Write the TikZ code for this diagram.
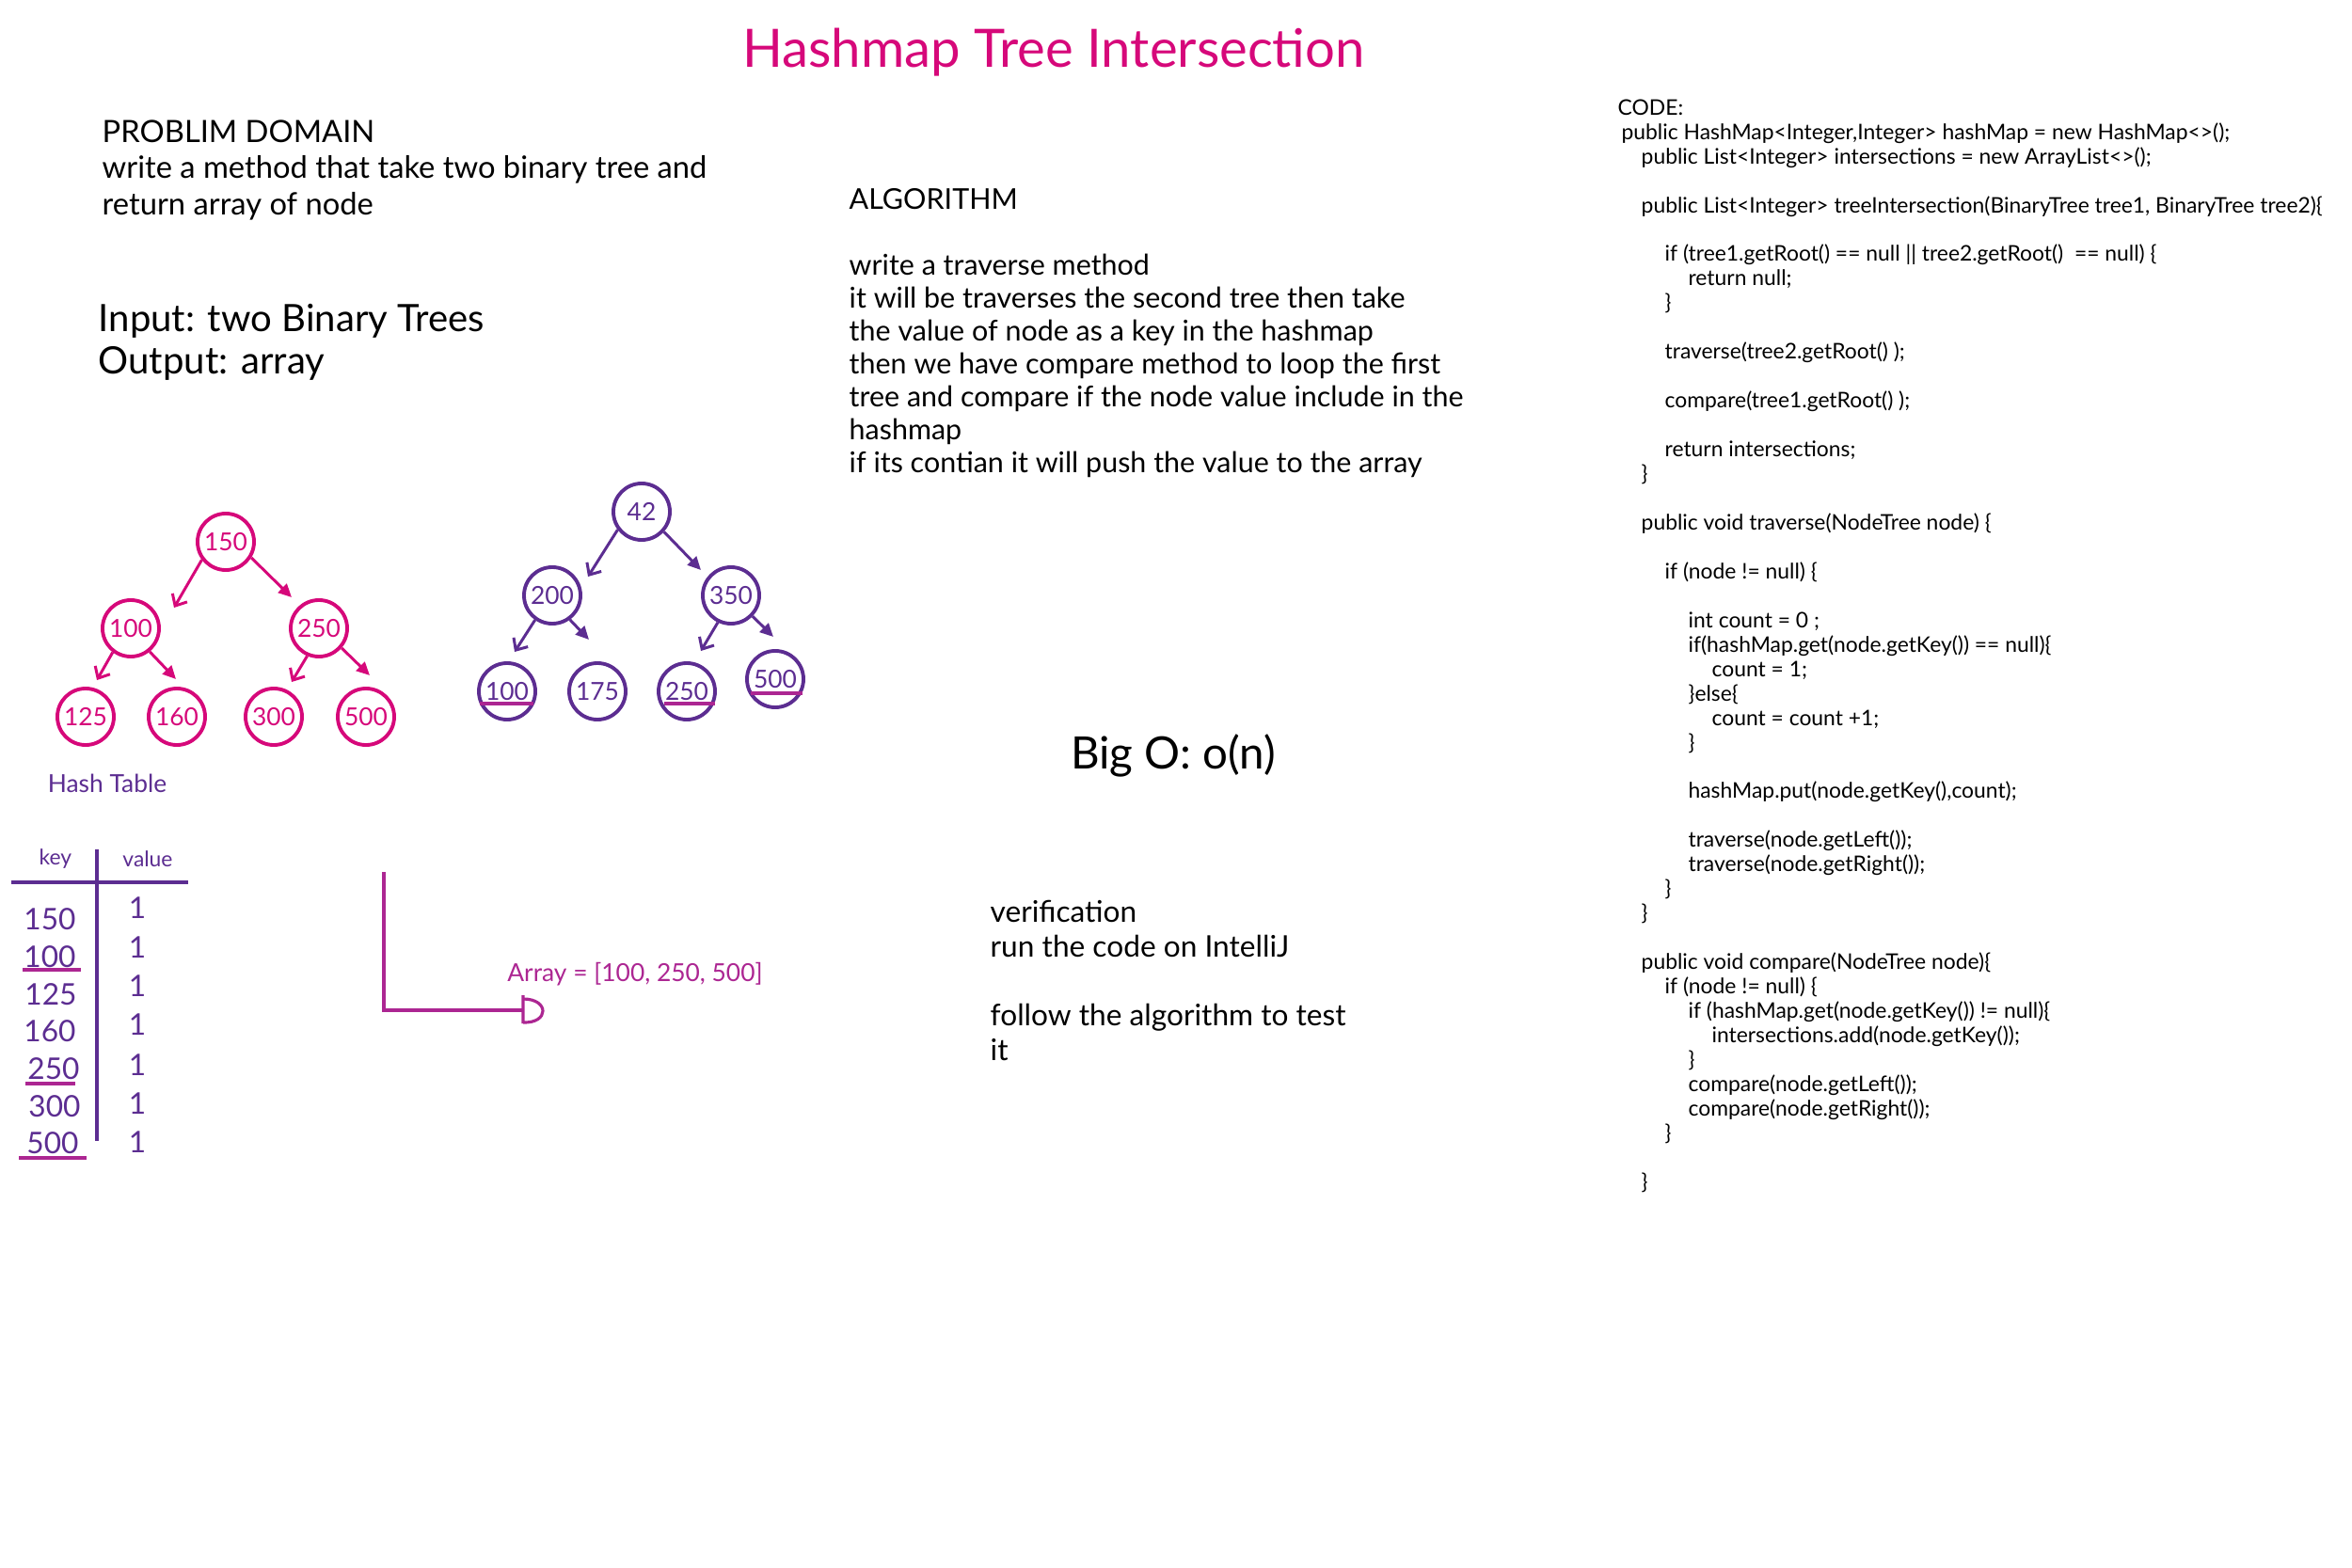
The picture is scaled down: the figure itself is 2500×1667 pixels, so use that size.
\documentclass[tikz,border=0pt]{standalone}
\usepackage{fontspec}
\setmainfont{Lato}
\usepackage{tikz}
\usetikzlibrary{arrows.meta, calc}

\definecolor{treepink}{RGB}{214,8,122}
\definecolor{treepurple}{RGB}{92,45,145}
\definecolor{marker}{RGB}{172,38,146}

\newlength\codestep
\setlength\codestep{7.1pt}
\newcommand{\codetab}[1]{\hspace*{#1\codestep}}

\begin{document}
\begin{tikzpicture}[
        x=0.01cm, y=-0.01cm,
        tnode/.style={circle, draw=#1, line width=1.1pt, minimum size=0.6cm, inner sep=0pt, text=#1, font=\fontsize{7.5}{9}\selectfont},
        edgeL/.style={draw=#1, line width=0.85pt, -{Straight Barb[length=1mm, width=1.8mm]}},
        edgeR/.style={draw=#1, line width=0.85pt, -{Triangle[length=1.4mm, width=1.3mm]}},
        note/.style={anchor=north west, align=left, inner sep=0pt},
        hl/.style={draw=marker, line width=0.9pt},
        keytxt/.style={text=treepurple, inner sep=0pt, font=\fontsize{9}{10}\selectfont},
    ]
    \useasboundingbox (0,0) rectangle (2500,1667);

    % Title
    \node[text=treepink, font=\fontsize{16}{19}\selectfont] (title) at (1120,56) {Hashmap Tree Intersection};

    % Problem domain
    \node[note, font=\fontsize{9.3}{10.95}\selectfont] (domain) at (108,127) {
        PROBLIM DOMAIN\\
        write a method that take two binary tree and\\
        return array of node
    };
    \node[note, font=\fontsize{11.4}{12.8}\selectfont] (inout) at (104,323) {
        Input: two Binary Trees\\
        Output: array
    };

    % Algorithm
    \node[note, font=\fontsize{8.66}{9.96}\selectfont] (algo) at (902,200) {
        ALGORITHM\\
        \mbox{}\\
        write a traverse method\\
        it will be traverses the second tree then take\\
        the value of node as a key in the hashmap\\
        then we have compare method to loop the first\\
        tree and compare if the node value include in the\\
        hashmap\\
        if its contian it will push the value to the array
    };

    % Big O and verification
    \node[font=\fontsize{13.5}{16}\selectfont] (bigo) at (1247,803) {Big O: o(n)};
    \node[note, font=\fontsize{9}{10.4}\selectfont] (verify) at (1052,957) {
        verification\\
        run the code on IntelliJ\\
        \mbox{}\\
        follow the algorithm to test\\
        it
    };

    % First tree
    \node[tnode=treepink] (p150) at (240,576) {150};
    \node[tnode=treepink] (p100) at (139,668) {100};
    \node[tnode=treepink] (p250) at (339,668) {250};
    \node[tnode=treepink] (p125) at (91,762) {125};
    \node[tnode=treepink] (p160) at (188,762) {160};
    \node[tnode=treepink] (p300) at (291,762) {300};
    \node[tnode=treepink] (p500) at (389,762) {500};

    \draw[edgeL=treepink] (p150.217) -- ($(p100)+(46,-22)$);
    \draw[edgeR=treepink] (p150.328) -- ($(p250)+(-29,-33)$);
    \draw[edgeL=treepink] (p100.233) -- ($(p125)+(12,-39)$);
    \draw[edgeR=treepink] (p100.309) -- ($(p160)+(-1,-40)$);
    \draw[edgeL=treepink] (p250.247) -- ($(p300)+(19,-37)$);
    \draw[edgeR=treepink] (p250.319) -- ($(p500)+(4,-44)$);

    % Second tree
    \node[tnode=treepurple] (q42) at (682,544) {42};
    \node[tnode=treepurple] (q200) at (587,633) {200};
    \node[tnode=treepurple] (q350) at (777,633) {350};
    \node[tnode=treepurple] (q100) at (539,735) {100};
    \node[tnode=treepurple] (q175) at (635,735) {175};
    \node[tnode=treepurple] (q250) at (730,735) {250};
    \node[tnode=treepurple] (q500) at (824,722) {500};

    \draw[edgeL=treepurple] (q42.217) -- ($(q200)+(38,-20)$);
    \draw[edgeR=treepurple] (q42.318) -- ($(q350)+(-32,-27)$);
    \draw[edgeL=treepurple] (q200.235) -- ($(q100)+(8,-42)$);
    \draw[edgeR=treepurple] (q200.306) -- ($(q175)+(-9,-55)$);
    \draw[edgeL=treepurple] (q350.244) -- ($(q250)+(15,-43)$);
    \draw[edgeR=treepurple] (q350.316) -- ($(q500)+(-2,-45)$);

    % common values
    \draw[hl] ($(q100)+(-29,13)$) -- ++(57,0);
    \draw[hl] ($(q250)+(-24,13)$) -- ++(54,0);
    \draw[hl] ($(q500)+(-26,15)$) -- ++(55,0);

    % Hash table
    \node[text=treepurple, font=\fontsize{7.5}{9}\selectfont] (htitle) at (114,833) {Hash Table};
    \node[text=treepurple, font=\fontsize{6.5}{8}\selectfont] (hkey) at (59,913) {key};
    \node[text=treepurple, font=\fontsize{6.5}{8}\selectfont] (hval) at (157,913) {value};
    \draw[treepurple, line width=0.9pt] (103,903) -- (103,1213);
    \draw[treepurple, line width=0.9pt] (12,938) -- (200,938);

    \node[keytxt] (k150) at (53,977) {150};
    \node[keytxt] (k100) at (53,1017) {100};
    \node[keytxt] (k125) at (54,1057) {125};
    \node[keytxt] (k160) at (53,1096) {160};
    \node[keytxt] (k250) at (57,1136) {250};
    \node[keytxt] (k300) at (58,1176) {300};
    \node[keytxt] (k500) at (56,1215) {500};

    \node[keytxt] (v150) at (146,965) {1};
    \node[keytxt] (v100) at (146,1007) {1};
    \node[keytxt] (v125) at (146,1048) {1};
    \node[keytxt] (v160) at (146,1089) {1};
    \node[keytxt] (v250) at (146,1132) {1};
    \node[keytxt] (v300) at (146,1173) {1};
    \node[keytxt] (v500) at (146,1214) {1};

    \draw[hl] ($(k100)+(-29,14)$) -- ++(62,0);
    \draw[hl] ($(k250)+(-30,16)$) -- ++(53,0);
    \draw[hl] ($(k500)+(-36,16)$) -- ++(72,0);

    % Result
    \coordinate (arrTop) at (408,927);
    \coordinate (arrCorner) at (408,1074);
    \coordinate (arrEnd) at (556,1074);
    \draw[marker, line width=0.9pt] (arrTop) -- (arrCorner) -- (arrEnd);
    \draw[marker, line width=0.9pt] ($(arrEnd)+(0,-16)$) -- ($(arrEnd)+(0,14)$)
        ($(arrEnd)+(0,-12)$) .. controls ($(arrEnd)+(28,-12)$) and ($(arrEnd)+(28,14)$) .. ($(arrEnd)+(0,13)$);
    \node[text=marker, font=\fontsize{7.5}{9}\selectfont] (result) at (675,1036) {Array = [100, 250, 500]};

    % Code
    \node[note, font=\fontsize{6.5}{7.38}\selectfont] (code) at (1719,105) {
        CODE:\\
        \hspace*{1.1pt}public HashMap<Integer,Integer> hashMap = new HashMap<>();\\
        \codetab{1}public List<Integer> intersections = new ArrayList<>();\\
        \mbox{}\\
        \codetab{1}public List<Integer> treeIntersection(BinaryTree tree1, BinaryTree tree2)\{\\
        \mbox{}\\
        \codetab{2}if (tree1.getRoot() == null || tree2.getRoot()~ == null) \{\\
        \codetab{3}return null;\\
        \codetab{2}\}\\
        \mbox{}\\
        \codetab{2}traverse(tree2.getRoot() );\\
        \mbox{}\\
        \codetab{2}compare(tree1.getRoot() );\\
        \mbox{}\\
        \codetab{2}return intersections;\\
        \codetab{1}\}\\
        \mbox{}\\
        \codetab{1}public void traverse(NodeTree node) \{\\
        \mbox{}\\
        \codetab{2}if (node != null) \{\\
        \mbox{}\\
        \codetab{3}int count = 0 ;\\
        \codetab{3}if(hashMap.get(node.getKey()) == null)\{\\
        \codetab{4}count = 1;\\
        \codetab{3}\}else\{\\
        \codetab{4}count = count +1;\\
        \codetab{3}\}\\
        \mbox{}\\
        \codetab{3}hashMap.put(node.getKey(),count);\\
        \mbox{}\\
        \codetab{3}traverse(node.getLeft());\\
        \codetab{3}traverse(node.getRight());\\
        \codetab{2}\}\\
        \codetab{1}\}\\
        \mbox{}\\
        \codetab{1}public void compare(NodeTree node)\{\\
        \codetab{2}if (node != null) \{\\
        \codetab{3}if (hashMap.get(node.getKey()) != null)\{\\
        \codetab{4}intersections.add(node.getKey());\\
        \codetab{3}\}\\
        \codetab{3}compare(node.getLeft());\\
        \codetab{3}compare(node.getRight());\\
        \codetab{2}\}\\
        \mbox{}\\
        \codetab{1}\}
    };

\end{tikzpicture}
\end{document}
